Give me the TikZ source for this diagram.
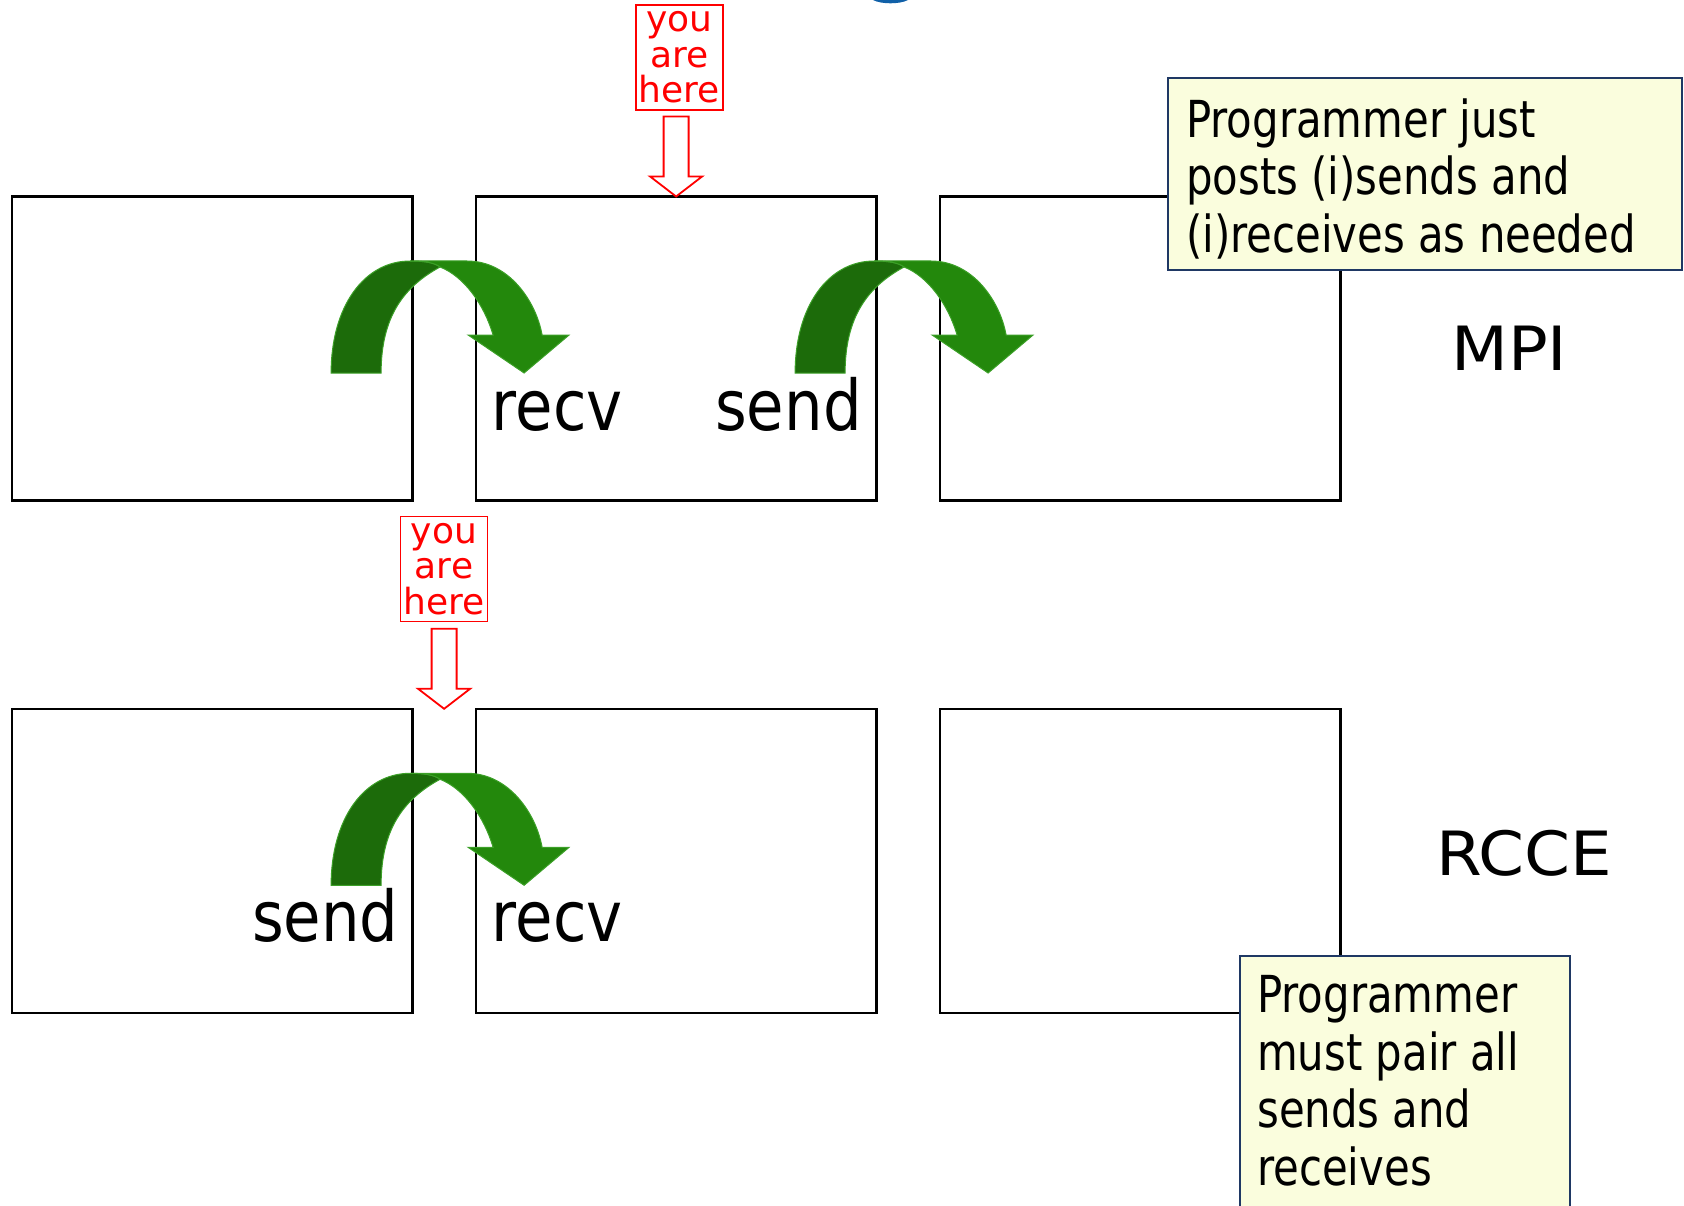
\documentclass[tikz,border=0pt]{standalone}
\usepackage{fontspec}
\setmainfont{DejaVu Sans}
\newfontfamily\narrowfont[FakeStretch=0.87]{DejaVu Sans}
\newfontfamily\widefont[FakeStretch=1.08]{DejaVu Sans}
\newfontfamily\notefont[FakeStretch=0.82]{DejaVu Sans}
\usetikzlibrary{positioning,calc}
\definecolor{leafdark}{RGB}{28,107,10}
\definecolor{leaflight}{RGB}{35,136,12}
\definecolor{leafedge}{RGB}{60,160,40}
\definecolor{notefill}{RGB}{250,253,221}
\definecolor{noteline}{RGB}{31,56,100}
\definecolor{titleblue}{RGB}{16,96,168}

\begin{document}
\begin{tikzpicture}[
	x=1pt,
	y=-1pt,
	line join=miter
]
\tikzset{
    corebox/.style = {rectangle, draw=black, line width=2.5pt, minimum width=400.6pt, minimum height=304pt, inner sep=0pt, outer sep=0pt},
    herebox/.style = {rectangle, draw=red, line width=1.8pt, text=red, align=center, minimum width=87pt, minimum height=105pt, inner sep=0pt, outer sep=0pt, font=\fontsize{36}{35.5}\selectfont},
    herearrow/.style = {draw=red, fill=white, line width=1.8pt},
    notebox/.style = {rectangle, draw=noteline, fill=notefill, line width=2pt, inner sep=0pt, outer sep=0pt, anchor=north west},
    notetext/.style = {align=left, inner sep=0pt, anchor=base west, font=\notefont\fontsize{51}{57.5}\selectfont},
    oplabel/.style = {inner sep=0pt, anchor=base west, font=\narrowfont\fontsize{70}{84}\selectfont},
    modelabel/.style = {inner sep=0pt, anchor=base west, font=\widefont\fontsize{61}{73}\selectfont},
}
    \useasboundingbox (0,0) rectangle (1684,1206);
    \clip (0,0) rectangle (1684,1206);

    \fill[titleblue] (873,0) .. controls (881,4.4) and (900,4.4) .. (908,0) -- cycle;

    % cores
    \node (A) [corebox] at (212.1,348.5) {};
    \node (B) [corebox, right=63.4pt of A] {};
    \node (C) [corebox, right=63.4pt of B] {};
    \node (D) [corebox, below=208.3pt of A] {};
    \node (E) [corebox, right=63.4pt of D] {};
    \node (F) [corebox, right=63.4pt of E] {};

    \coordinate (g1) at ($(A.north east)!0.5!(B.north west)$);
    \coordinate (g2) at ($(B.north east)!0.5!(C.north west)$);
    \coordinate (g3) at ($(D.north east)!0.5!(E.north west)$);

    % curved green arrows
    \foreach \g in {g1,g2,g3} {
        \begin{scope}[shift={(\g)}]
            \filldraw[fill=leafdark, draw=leafedge, line width=1pt]
                (-113,176.5) .. controls (-113,110) and (-80,64.5) .. (-34,64.5)
                .. controls (-20,64.5) and (-10,66) .. (-4,70.5)
                .. controls (-40,90) and (-63,120) .. (-63,176.5) -- cycle;
            \filldraw[fill=leaflight, draw=leafedge, line width=1pt]
                (-34,64.5) -- (23,64.5) .. controls (65,64.5) and (92,105) .. (98,138.5)
                -- (125,138.5) -- (80,176.5) -- (24,138.5) -- (49,138.5)
                .. controls (40,108) and (20,80) .. (-4,70.5)
                .. controls (-10,66) and (-20,64.5) .. (-34,64.5) -- cycle;
        \end{scope}
    }

    % you are here
    \node (here1) [herebox] at (679.5,57.5) {you\\are\\here};
    \begin{scope}[shift={(B.north)}]
        \draw[herearrow] (-12.5,-80) -- (12.5,-80) -- (12.5,-20) -- (26,-20) -- (0,0) -- (-26,-20) -- (-12.5,-20) -- cycle;
    \end{scope}
    \node (here2) [herebox] at (444,569) {you\\are\\here};
    \begin{scope}[shift={(g3)}]
        \draw[herearrow] (-12.5,-80) -- (12.5,-80) -- (12.5,-20) -- (26,-20) -- (0,0) -- (-26,-20) -- (-12.5,-20) -- cycle;
    \end{scope}

    \node (recvB) [oplabel] at (491.6,430) {recv};
    \node (sendB) [oplabel] at (715,430) {send};
    \node (mpi) [modelabel] at (1451,370.7) {MPI};
    \node (sendD) [oplabel] at (252,941) {send};
    \node (recvE) [oplabel] at (491.6,941) {recv};
    \node (rcce) [modelabel] at (1436,875) {RCCE};

    % notes (base = last line)
    \node (mpinote) [notebox, minimum width=514pt, minimum height=192pt] at (1168,78) {};
    \node (mpitext) [notetext] at (1186,252.5) {Programmer just\\posts (i)sends and\\(i)receives as needed};
    \node (rccenote) [notebox, minimum width=330pt, minimum height=300pt] at (1240,956) {};
    \node (rccetext) [notetext] at (1257,1185) {Programmer\\must pair all\\sends and\\receives};
\end{tikzpicture}
\end{document}
